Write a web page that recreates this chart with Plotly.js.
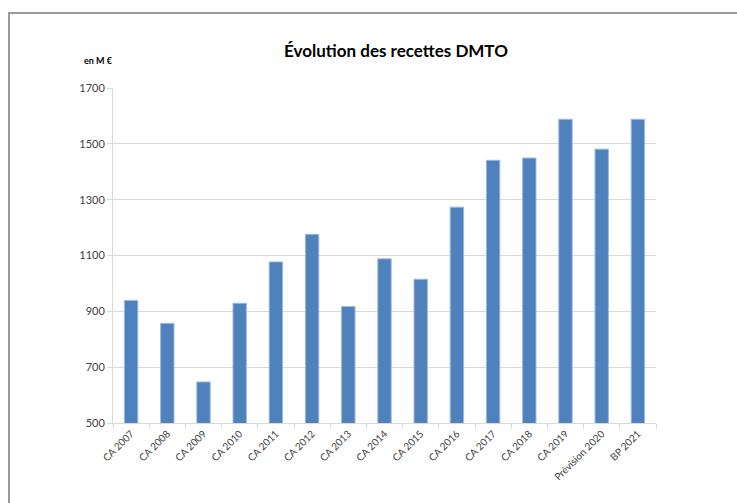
<!DOCTYPE html>
<html>
<head>
<meta charset="utf-8">
<script src="https://cdn.plot.ly/plotly-3.0.1.min.js"></script>
<style>
html,body{margin:0;padding:0;background:#fff;}
#chart{width:737px;height:503px;}
</style>
</head>
<body>
<div id="chart"></div>
<script>
const categories = ["CA 2007","CA 2008","CA 2009","CA 2010","CA 2011","CA 2012","CA 2013","CA 2014","CA 2015","CA 2016","CA 2017","CA 2018","CA 2019","Prévision 2020","BP 2021"];
const recettes = [939, 857, 647, 929, 1077, 1176, 917, 1088, 1015, 1273, 1441, 1449, 1588, 1481, 1588];
const yTicks = [500, 700, 900, 1100, 1300, 1500, 1700];
const chartTitle = "Évolution des recettes DMTO";
const unitLabel = "en M €";

const W = 737, H = 503;
const M = {l: 113, r: 81, t: 88, b: 80};
const pw = W - M.l - M.r, ph = H - M.t - M.b;
const px = x => (x - M.l) / pw;
const py = y => (H - M.b - y) / ph;
const FONT = 'Lato, Open Sans, sans-serif';

const trace = {
  type: 'bar',
  x: categories,
  y: recettes,
  marker: {color: '#4f81bd', line: {color: '#9fb9dc', width: 1}},
  hoverinfo: 'x+y'
};

const layout = {
  width: W, height: H,
  margin: M,
  paper_bgcolor: '#fff',
  plot_bgcolor: '#fff',
  showlegend: false,
  bargap: 0.63,
  title: {
    text: '<b>' + chartTitle + '</b>',
    font: {family: FONT, size: 17, color: '#000'},
    x: px(396), xref: 'paper', xanchor: 'center',
    y: 1 - 51 / H, yref: 'container', yanchor: 'middle'
  },
  xaxis: {
    type: 'category',
    showgrid: false,
    showline: true, linecolor: '#d9d9d9', linewidth: 1,
    ticks: 'outside', tickson: 'boundaries', ticklen: 5, tickcolor: '#d9d9d9',
    tickangle: -45,
    tickfont: {family: FONT, size: 10, color: '#404040'},
    automargin: false,
    fixedrange: true
  },
  yaxis: {
    range: [500, 1700],
    tickvals: yTicks,
    ticktext: yTicks.map(String),
    showgrid: true, gridcolor: '#d9d9d9', gridwidth: 1,
    showline: true, linecolor: '#d9d9d9', linewidth: 1,
    zeroline: false,
    ticks: 'outside', ticklen: 5, tickcolor: '#d9d9d9',
    tickfont: {family: FONT, size: 11, color: '#404040'},
    automargin: false,
    fixedrange: true
  },
  annotations: [{
    text: '<b>' + unitLabel + '</b>',
    xref: 'paper', yref: 'paper',
    x: px(82), y: py(60), xanchor: 'left', yanchor: 'middle',
    showarrow: false,
    font: {family: FONT, size: 9, color: '#000'}
  }],
  shapes: [{
    type: 'path', xref: 'paper', yref: 'paper',
    path: 'M ' + px(9) + ' ' + py(H + 2) + ' L ' + px(9) + ' ' + py(13) + ' L ' + px(W + 2) + ' ' + py(13),
    line: {color: '#9a9a9a', width: 2}
  }]
};

Plotly.newPlot('chart', [trace], layout, {displayModeBar: false, staticPlot: true});
</script>
</body>
</html>
